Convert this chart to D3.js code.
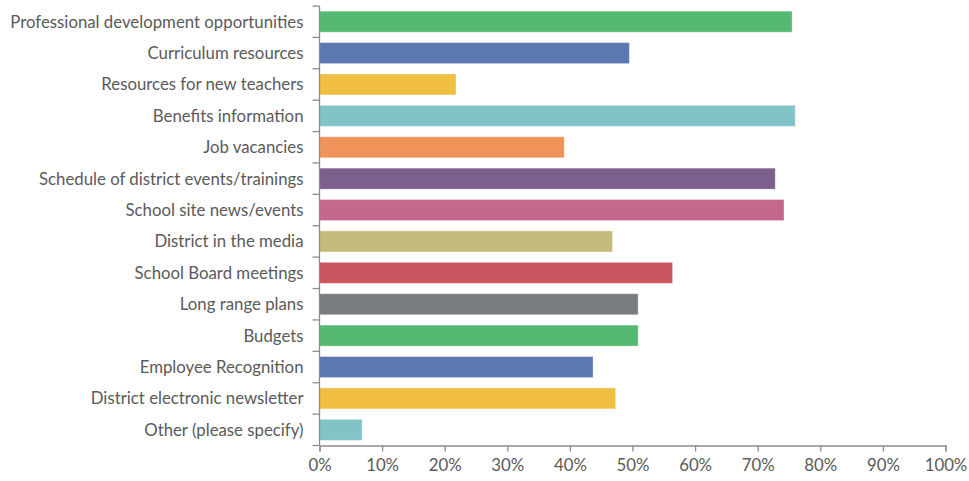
<!DOCTYPE html>
<html>
<head>
<meta charset="utf-8">
<script src="https://cdn.jsdelivr.net/npm/d3@7"></script>
<style>
  html, body { margin: 0; padding: 0; background: #fff; }
  svg { display: block; }
  .lbl { font-family: Lato, "Open Sans", sans-serif; font-size: 16.8px; fill: #5a5a5a; }
</style>
</head>
<body>
<svg id="chart" width="969" height="481"></svg>
<script>
// Survey responses: share of respondents interested in each topic
const categories = [
  "Professional development opportunities",
  "Curriculum resources",
  "Resources for new teachers",
  "Benefits information",
  "Job vacancies",
  "Schedule of district events/trainings",
  "School site news/events",
  "District in the media",
  "School Board meetings",
  "Long range plans",
  "Budgets",
  "Employee Recognition",
  "District electronic newsletter",
  "Other (please specify)"
];
const values = [75.5, 49.5, 21.8, 76.0, 39.1, 72.8, 74.2, 46.8, 56.4, 50.9, 50.9, 43.7, 47.3, 6.8];
const colors = ["#55b972", "#5b78b0", "#f0bf42", "#81c4c8", "#ef935a", "#7b5f8c",
                "#c4678c", "#c3ba7b", "#c9565f", "#777c80", "#55b972", "#5b78b0",
                "#f0bf42", "#81c4c8"];
const xTicks = [0, 10, 20, 30, 40, 50, 60, 70, 80, 90, 100];

const svg = d3.select("#chart");
const margin = { left: 319.5, right: 23.5, top: 6, bottom: 35.5 };
const W = 969, H = 481;

const x = d3.scaleLinear().domain([0, 100]).range([margin.left, W - margin.right]);
const y = d3.scaleBand().domain(categories).range([margin.top, H - margin.bottom])
  .paddingInner(0.33).paddingOuter(0.165);

const axisColor = "#8c8c8c";

// bars
svg.append("g").selectAll("rect").data(categories).join("rect")
  .attr("x", x(0))
  .attr("y", d => y(d))
  .attr("width", (d, i) => x(values[i]) - x(0))
  .attr("height", y.bandwidth())
  .attr("fill", (d, i) => colors[i])
  .attr("stroke", "#ffffff")
  .attr("stroke-opacity", 0.35)
  .attr("stroke-width", 1);

// vertical category axis with ticks at band boundaries
const step = y.step();
const boundaries = categories.map(c => y(c) - step * y.paddingInner() / 2);
boundaries.push(y(categories[categories.length - 1]) + y.bandwidth() + step * y.paddingInner() / 2);
const gy = svg.append("g");
gy.append("line")
  .attr("x1", x(0)).attr("x2", x(0))
  .attr("y1", boundaries[0]).attr("y2", boundaries[boundaries.length - 1])
  .attr("stroke", axisColor).attr("stroke-width", 1.3);
gy.selectAll("line.t").data(boundaries).join("line").attr("class", "t")
  .attr("x1", x(0) - 7).attr("x2", x(0))
  .attr("y1", d => d).attr("y2", d => d)
  .attr("stroke", axisColor).attr("stroke-width", 1.3);
gy.selectAll("text").data(categories).join("text").attr("class", "lbl")
  .attr("x", x(0) - 16)
  .attr("y", d => y(d) + y.bandwidth() / 2)
  .attr("dy", "0.35em")
  .attr("text-anchor", "end")
  .text(d => d);

// horizontal percentage axis
const axisY = boundaries[boundaries.length - 1];
const gx = svg.append("g").attr("transform", `translate(0,${axisY})`)
  .call(d3.axisBottom(x).tickValues(xTicks).tickSize(6).tickPadding(8)
    .tickFormat(d => d + "%"));
gx.select(".domain").attr("stroke", axisColor).attr("stroke-width", 1.3);
gx.selectAll(".tick line").attr("stroke", axisColor).attr("stroke-width", 1.3);
gx.selectAll(".tick text").attr("class", "lbl").attr("fill", null);
</script>
</body>
</html>
